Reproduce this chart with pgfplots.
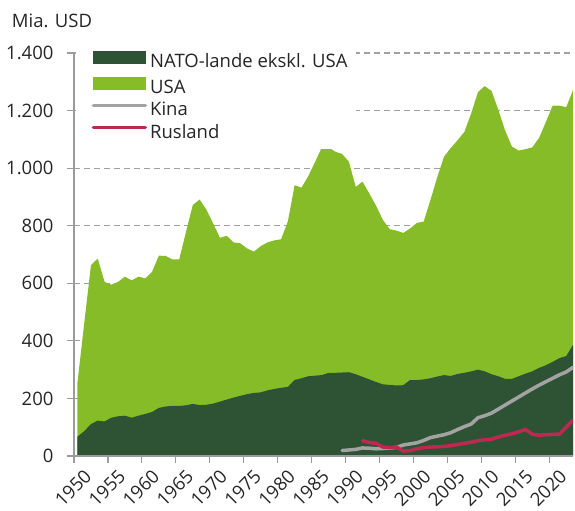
\documentclass[border=0pt]{standalone}
\usepackage{pgfplots}
\pgfplotsset{compat=1.18}
\usepackage{pgfplotstable}
\usepackage{fontspec}
\setmainfont{Open Sans}
\definecolor{natog}{RGB}{45,82,52}
\definecolor{usag}{RGB}{135,188,41}
\definecolor{kinag}{RGB}{163,163,163}
\definecolor{rusr}{RGB}{192,40,82}
\definecolor{axg}{RGB}{155,155,155}
\definecolor{gridg}{RGB}{160,160,160}

\pgfplotstableread{
year nato usa
1950 67 186
1951 86 374
1952 111 552
1953 123 563
1954 120 485
1955 133 462
1956 138 467
1957 140 483
1958 133 477
1959 140 483
1960 146 471
1961 153 487
1962 167 529
1963 172 523
1964 174 509
1965 174 509
1966 176 603
1967 181 691
1968 177 714
1969 178 678
1970 182 626
1971 189 569
1972 196 569
1973 203 539
1974 209 530
1975 215 506
1976 219 491
1977 221 508
1978 228 514
1979 233 516
1980 237 516
1981 240 575
1982 264 677
1983 270 662
1984 277 695
1985 279 742
1986 281 791
1987 289 783
1988 289 768
1989 290 759
1990 291 731
1991 284 651
1992 275 678
1993 266 646
1994 257 612
1995 249 571
1996 247 541
1997 245 538
1998 246 529
1999 264 526
2000 264 546
2001 266 548
2002 270 619
2003 276 692
2004 281 759
2005 278 792
2006 285 812
2007 289 837
2008 294 896
2009 300 964
2010 294 991
2011 284 984
2012 277 926
2013 268 863
2014 268 807
2015 277 784
2016 286 780
2017 294 778
2018 306 799
2019 315 845
2020 327 890
2021 340 877
2022 347 865
2023 386 885
}\areadata

\pgfplotstableread{
year kina
1989 19
1990 21
1991 23
1992 28
1993 27
1994 25
1995 26
1996 27
1997 30
1998 38
1999 42
2000 46
2001 54
2002 64
2003 69
2004 74
2005 81
2006 92
2007 102
2008 111
2009 133
2010 140
2011 149
2012 163
2013 177
2014 191
2015 205
2016 219
2017 233
2018 246
2019 258
2020 270
2021 282
2022 292
2023 308
}\kinadata

\pgfplotstableread{
year rus
1992 53
1993 47
1994 44
1995 31
1996 29
1997 31
1998 17
1999 19
2000 25
2001 29
2002 31
2003 32
2004 33
2005 36
2006 40
2007 44
2008 48
2009 53
2010 56
2011 58
2012 66
2013 72
2014 77
2015 84
2016 92
2017 76
2018 72
2019 74
2020 75
2021 76
2022 100
2023 125
}\rusdata

\begin{document}
\begin{tikzpicture}
\path[use as bounding box] (-74bp,-55bp) rectangle (501bp,456bp);
\begin{axis}[
  scale only axis,
  width=499bp, height=403bp,
  xmin=1950, xmax=2023.5, ymin=0, ymax=1400,
  axis x line=bottom, axis y line=left,
  axis line style={-, axg, line width=1.2bp},
  xtick={1950,1955,...,2020},
  ytick={0,200,...,1400},
  tick align=outside,
  major tick length=7bp,
  tick style={axg, line width=1.2bp},
  ymajorgrids,
  grid style={gridg, line width=1.2bp, dash pattern=on 6bp off 4bp},
  /pgf/number format/assume math mode=true,
  tick label style={font=\fontsize{18.5bp}{22bp}\selectfont, text=black!85},
  yticklabel style={/pgf/number format/.cd, 1000 sep={.}, /tikz/.cd, xshift=-10bp},
  xticklabel style={/pgf/number format/.cd, 1000 sep={}, /tikz/.cd, rotate=45, anchor=north east, inner sep=2bp, xshift=5bp, yshift=-8bp},
  legend style={
    at={(axis description cs:0.004,1.02)}, anchor=north west,
    fill=white, draw=none,
    inner xsep=8bp, inner ysep=6bp,
    font=\fontsize{18.5bp}{22bp}\selectfont, text=black!85,
    column sep=3bp, row sep=4.4bp,
    nodes={inner sep=0pt, text height=13.5bp, text depth=4.5bp},
  },
  legend cell align=left,
]
\addplot[fill=usag, draw=none, forget plot]
  table[x expr=\thisrow{year}+0.5, y expr=\thisrow{nato}+\thisrow{usa}] {\areadata} \closedcycle;
\addplot[fill=natog, draw=none, forget plot]
  table[x expr=\thisrow{year}+0.5, y=nato] {\areadata} \closedcycle;
\addplot[kinag, line width=3.5bp, line join=round, line cap=round, forget plot]
  table[x expr=\thisrow{year}+0.5, y=kina] {\kinadata};
\addplot[rusr, line width=3.5bp, line join=round, line cap=round, forget plot]
  table[x expr=\thisrow{year}+0.5, y=rus] {\rusdata};
\draw[axg, line width=1.2bp] (axis cs:1950,0) -- (axis cs:2023.5,0);
\addlegendimage{legend image code/.code={\fill[natog] (0bp,0bp) rectangle (52bp,12bp); \path (-9bp,0bp);}}
\addlegendentry{NATO-lande ekskl. USA}
\addlegendimage{legend image code/.code={\fill[usag] (0bp,0bp) rectangle (52bp,12bp); \path (-9bp,0bp);}}
\addlegendentry{USA}
\addlegendimage{legend image code/.code={\draw[kinag, line width=3.5bp, line cap=round] (0bp,6bp) -- (52bp,6bp); \path (-9bp,0bp);}}
\addlegendentry{Kina}
\addlegendimage{legend image code/.code={\draw[rusr, line width=3.5bp, line cap=round] (0bp,6bp) -- (52bp,6bp); \path (-9bp,0bp);}}
\addlegendentry{Rusland}
\end{axis}
\node[anchor=base west, inner sep=0pt, font=\fontsize{18.5bp}{22bp}\selectfont, text=black!85] at (-62.3bp,428.7bp) {Mia. USD};
\end{tikzpicture}
\end{document}
